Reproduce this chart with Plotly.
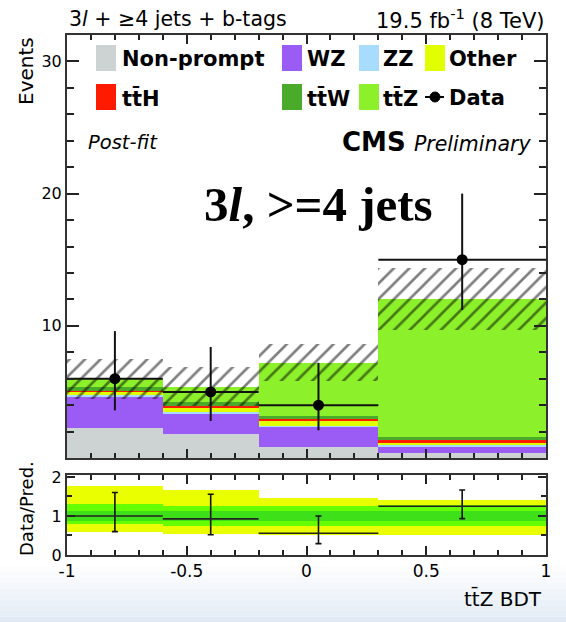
import numpy as np
import plotly.graph_objects as go

# ---- binning (ttZ BDT output) ----
edges = [-1.0, -0.6, -0.2, 0.3, 1.0]

# ---- post-fit expected yields per bin ----
nonprompt = [2.3, 1.8, 0.8, 0.4]
wz = [2.35, 1.5, 1.55, 0.45]
zz = [0.15, 0.2, 0.1, 0.1]
other = [0.25, 0.3, 0.35, 0.2]
tth = [0.05, 0.15, 0.15, 0.2]
ttw = [0.25, 0.25, 0.25, 0.25]
ttz = [0.65, 1.2, 4.0, 10.4]
bkg_unc = [1.5, 1.5, 1.4, 2.35]

# ---- observed data with Poisson intervals ----
data = [6, 5, 4, 15]
data_err_up = [3.6, 3.4, 3.2, 5.0]
data_err_dn = [2.4, 2.2, 1.9, 3.8]

# ---- ratio-panel uncertainty bands ----
band_yellow_lo = [0.60, 0.55, 0.52, 0.52]
band_yellow_hi = [1.76, 1.66, 1.45, 1.41]
band_green_lo = [0.80, 0.75, 0.75, 0.75]
band_green_hi = [1.30, 1.25, 1.25, 1.27]
band_inner_lo = [0.88, 0.88, 0.88, 0.88]
band_inner_hi = [1.12, 1.12, 1.12, 1.12]

x_ticks = [-1, -0.5, 0, 0.5, 1]
x_ticklabels = ["-1", "-0.5", "0", "0.5", "1"]
y_ticks = [10, 20, 30]
r_ticks = [0, 1, 2]

processes = [
    ("Non-prompt", nonprompt, "#cdd2d2"),
    ("WZ", wz, "#9a5cf5"),
    ("ZZ", zz, "#a8dcff"),
    ("Other", other, "#e2ff00"),
    ("tt\u0304H", tth, "#ff1a00"),
    ("tt\u0304W", ttw, "#4aaa2a"),
    ("tt\u0304Z", ttz, "#8cf02a"),
]

edges_a = np.array(edges)
centers = 0.5 * (edges_a[1:] + edges_a[:-1])
widths = edges_a[1:] - edges_a[:-1]
half = widths / 2

# canvas geometry (pixels)
W_FIG, H_FIG = 566, 622
L, R, T, B = 67, 546, 35, 555
PW, PH = R - L, B - T
MAIN_BOTTOM, RATIO_TOP = 458, 475


def px(x):
    return (x - L) / PW


def py(y):
    return (B - y) / PH


fig = go.Figure()

# stacked backgrounds
cum = np.zeros(len(centers))
for name, vals, col in processes:
    v = np.array(vals, dtype=float)
    fig.add_trace(go.Bar(
        x=centers, y=v, base=cum.copy(), width=widths,
        marker=dict(color=col, line=dict(width=0)),
        xaxis="x", yaxis="y", showlegend=False, name=name,
    ))
    cum = cum + v
total = cum

# hatched uncertainty band
unc = np.array(bkg_unc)
fig.add_trace(go.Bar(
    x=centers, y=2 * unc, base=total - unc, width=widths,
    marker=dict(color="rgba(0,0,0,0)", line=dict(width=0),
                pattern=dict(shape="/", fgcolor="#000000", bgcolor="rgba(0,0,0,0)",
                             size=11, solidity=0.24, fillmode="overlay")),
    xaxis="x", yaxis="y", showlegend=False,
))

# data points
fig.add_trace(go.Scatter(
    x=centers, y=data, mode="markers",
    marker=dict(color="black", size=11),
    error_y=dict(type="data", array=data_err_up, arrayminus=data_err_dn,
                 color="#111111", thickness=2, width=0),
    error_x=dict(type="data", array=half, color="#111111", thickness=2, width=0),
    xaxis="x", yaxis="y", showlegend=False,
))

# ratio bands
for lo, hi, col in [(band_yellow_lo, band_yellow_hi, "#eaff00"),
                    (band_green_lo, band_green_hi, "#66ff00"),
                    (band_inner_lo, band_inner_hi, "#3ee01a")]:
    lo_a, hi_a = np.array(lo), np.array(hi)
    fig.add_trace(go.Bar(
        x=centers, y=hi_a - lo_a, base=lo_a, width=widths,
        marker=dict(color=col, line=dict(width=0)),
        xaxis="x2", yaxis="y2", showlegend=False,
    ))

# ratio points
data_a = np.array(data, dtype=float)
ratio = data_a / total
r_up = (data_a + np.array(data_err_up)) / total - ratio
r_dn = ratio - (data_a - np.array(data_err_dn)) / total
fig.add_trace(go.Scatter(
    x=centers, y=ratio, mode="markers",
    marker=dict(color="rgba(0,0,0,0)", size=2),
    error_y=dict(type="data", array=r_up, arrayminus=r_dn,
                 color="#111111", thickness=1.6, width=3),
    error_x=dict(type="data", array=half, color="#222222", thickness=1.6, width=0),
    xaxis="x2", yaxis="y2", showlegend=False,
))

axis_common = dict(showline=True, linecolor="#333333", linewidth=2, mirror="ticks",
                   ticks="inside", tickcolor="#222222", showgrid=False, zeroline=False)

fig.update_layout(
    width=W_FIG, height=H_FIG,
    margin=dict(l=L, r=W_FIG - R, t=T, b=H_FIG - B),
    paper_bgcolor="white", plot_bgcolor="white",
    barmode="overlay", bargap=0,
    font=dict(family="DejaVu Sans", color="black"),
    xaxis=dict(domain=[0, 1], range=[-1, 1], anchor="y", matches="x2",
               showticklabels=False, tickvals=x_ticks, ticklen=9, tickwidth=1.5,
               minor=dict(dtick=0.1, tick0=0, ticklen=5, ticks="inside", tickcolor="#222222"),
               **axis_common),
    yaxis=dict(domain=[py(MAIN_BOTTOM), 1], range=[0, 32], anchor="x",
               tickvals=y_ticks, ticklen=12, tickwidth=1.5,
               tickfont=dict(size=16),
               minor=dict(dtick=2, tick0=0, ticklen=7, ticks="inside", tickcolor="#222222"),
               **axis_common),
    xaxis2=dict(domain=[0, 1], range=[-1, 1], anchor="y2",
                tickvals=x_ticks, ticktext=x_ticklabels, ticklen=9, tickwidth=1.5,
                tickfont=dict(size=17),
                minor=dict(dtick=0.1, tick0=0, ticklen=5, ticks="inside", tickcolor="#222222"),
                **axis_common),
    yaxis2=dict(domain=[0, py(RATIO_TOP)], range=[0, 2.05], anchor="x2",
                tickvals=r_ticks, ticklen=8, tickwidth=1.5,
                tickfont=dict(size=16),
                minor=dict(dtick=0.5, tick0=0, ticklen=5, ticks="inside", tickcolor="#222222"),
                **axis_common),
)

# soft slide-background gradient along the bottom edge
n_strips = 10
y0, y1 = 566, H_FIG
for i in range(n_strips):
    f = (i + 0.5) / n_strips
    r_ = int(255 - f * 30)
    g_ = int(255 - f * 21)
    b_ = int(255 - f * 10)
    ya = y0 + (y1 - y0) * i / n_strips
    yb = y0 + (y1 - y0) * (i + 1) / n_strips
    fig.add_shape(type="rect", xref="paper", yref="paper",
                  x0=px(0), x1=px(W_FIG), y0=py(yb), y1=py(ya),
                  fillcolor=f"rgb({r_},{g_},{b_})", line=dict(width=0), layer="below")

annotations = []


def text(x, y, s, size, xanchor="left", yanchor="middle", family="DejaVu Sans", angle=0):
    annotations.append(dict(x=px(x), y=py(y), xref="paper", yref="paper", text=s,
                            showarrow=False, xanchor=xanchor, yanchor=yanchor,
                            textangle=angle,
                            font=dict(size=size, family=family, color="black")))


# header
text(L, 19, "3<i>l</i> + \u22654 jets + b-tags", 20.5)
text(R, 19, "19.5 fb<sup>-1</sup> (8 TeV)", 21, xanchor="right")

# axis titles
text(26, T, "Events", 20, xanchor="center", yanchor="top", angle=-90)
text(26, 509, "Data/Pred.", 18, xanchor="center", yanchor="middle", angle=-90)
text(R - 2, 598, "tt\u0304Z BDT", 20, xanchor="right")

# in-frame labels
text(86, 142, "<i>Post-fit</i>", 19.5)
text(533, 142, "<b>CMS</b> <i><span style='font-size:20.5px'>Preliminary</span></i>", 26, xanchor="right")
text(318, 205, "<b>3<i>l</i>, >=4 jets</b>", 49, xanchor="center", family="Liberation Serif")

# legend
legend_rows = [58, 97]
legend_cols = [(96, 120), (282, 305), (359, 381), (425, 447)]
legend_items = [
    (0, 0, "Non-prompt", "#cdd2d2"), (0, 1, "WZ", "#9a5cf5"),
    (0, 2, "ZZ", "#a8dcff"), (0, 3, "Other", "#e2ff00"),
    (1, 0, "tt\u0304H", "#ff1a00"), (1, 1, "tt\u0304W", "#4aaa2a"),
    (1, 2, "tt\u0304Z", "#8cf02a"),
]
shapes = []
for row, col, label, colr in legend_items:
    yc = legend_rows[row]
    xs, xt = legend_cols[col]
    shapes.append(dict(type="rect", xref="paper", yref="paper",
                       x0=px(xs), x1=px(xs + 20), y0=py(yc + 13), y1=py(yc - 13),
                       fillcolor=colr, line=dict(width=0)))
    text(xt, yc + 1, f"<b>{label}</b>", 21)
# data entry
yc = legend_rows[1]
shapes.append(dict(type="line", xref="paper", yref="paper",
                   x0=px(425), x1=px(444), y0=py(yc), y1=py(yc),
                   line=dict(color="black", width=2)))
shapes.append(dict(type="circle", xref="paper", yref="paper",
                   x0=px(430), x1=px(440), y0=py(yc + 5), y1=py(yc - 5),
                   fillcolor="black", line=dict(color="black", width=1)))
text(447, yc + 1, "<b>Data</b>", 21)

for s in shapes:
    fig.add_shape(**s)
fig.update_layout(annotations=annotations)

fig.write_html("out.html")
